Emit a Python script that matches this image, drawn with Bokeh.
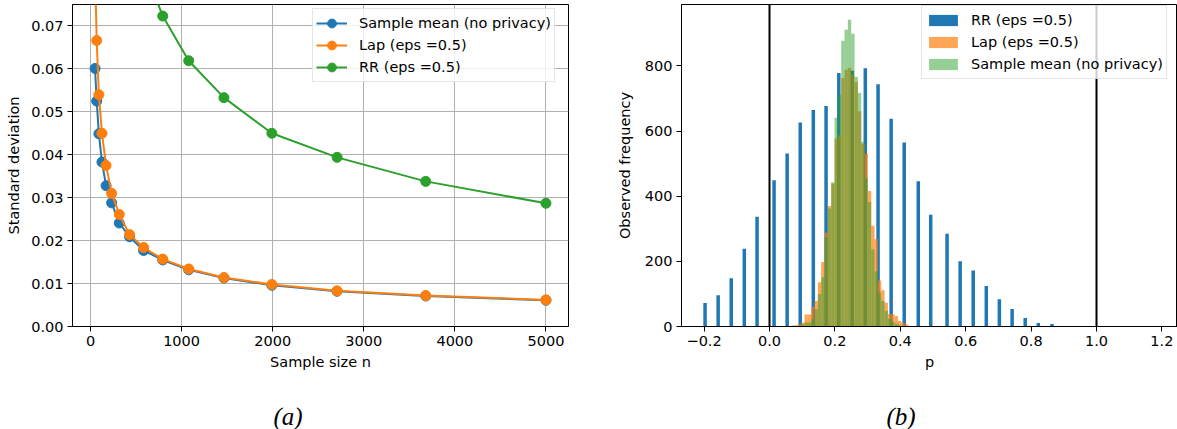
from bokeh.plotting import figure
from bokeh.layouts import row, column
from bokeh.models import (Span, Div, SingleIntervalTicker, CustomJSTickFormatter,
                          PrintfTickFormatter)
from bokeh.embed import file_html
from bokeh.resources import INLINE

# ---------------- data: panel (a) ----------------
sample_sizes = [50, 68, 92, 126, 171, 232, 316, 429, 583, 793, 1078, 1465, 1991, 2707, 3680, 5000]
std_sample_mean = [0.0601, 0.0525, 0.0449, 0.0383, 0.0328, 0.0288, 0.0241, 0.0209,
                   0.0177, 0.0155, 0.0132, 0.0113, 0.0096, 0.0082, 0.0071, 0.0061]
std_laplace = [0.083, 0.0666, 0.0540, 0.0450, 0.0375, 0.0310, 0.0261, 0.0214,
               0.0184, 0.0157, 0.0134, 0.0114, 0.0098, 0.0083, 0.0072, 0.0062]
std_rr = [0.287, 0.246, 0.212, 0.181, 0.155, 0.133, 0.114, 0.098,
          0.084, 0.0723, 0.0619, 0.0533, 0.0450, 0.0394, 0.0338, 0.0287]

# ---------------- data: panel (b) ----------------
rr_p = [-0.197, -0.157, -0.117, -0.077, -0.038, 0.014, 0.054, 0.094, 0.134, 0.173,
        0.212, 0.253, 0.293, 0.332, 0.372, 0.412, 0.455, 0.493, 0.543, 0.583,
        0.623, 0.663, 0.703, 0.742, 0.782, 0.822, 0.864]
rr_count = [72, 96, 148, 239, 337, 449, 531, 626, 665, 677,
            778, 785, 793, 744, 638, 565, 446, 343, 285, 200,
            172, 124, 84, 54, 26, 11, 8]

lap_p = [0.0714, 0.0816, 0.0918, 0.1020, 0.1122, 0.1224, 0.1326, 0.1428, 0.1530, 0.1632,
         0.1734, 0.1836, 0.1938, 0.2040, 0.2142, 0.2244, 0.2346, 0.2448, 0.2550, 0.2652,
         0.2754, 0.2856, 0.2958, 0.3060, 0.3162, 0.3264, 0.3366, 0.3468, 0.3570, 0.3672,
         0.3774, 0.3876, 0.3978, 0.4080, 0.4182]
lap_count = [3, 4, 7, 12, 37, 37, 60, 78, 136, 198,
             288, 370, 438, 577, 587, 763, 788, 794, 773, 751,
             661, 560, 531, 416, 309, 269, 141, 111, 73, 38,
             38, 32, 17, 12, 7]

mean_p = [0.1020, 0.1122, 0.1224, 0.1326, 0.1428, 0.1530, 0.1632, 0.1734, 0.1836, 0.1938,
          0.2040, 0.2142, 0.2244, 0.2346, 0.2448, 0.2550, 0.2652, 0.2754, 0.2856, 0.2958,
          0.3060, 0.3162, 0.3264, 0.3366, 0.3468, 0.3570, 0.3672, 0.3774, 0.3876, 0.3978]
mean_count = [7, 12, 12, 22, 53, 100, 151, 275, 362, 443,
              641, 712, 877, 911, 942, 899, 766, 717, 567, 455,
              382, 237, 170, 104, 78, 48, 24, 15, 9, 5]

vline_positions = [0.0, 1.0]

label_mean = "Sample mean (no privacy)"
label_lap = "Lap (eps =0.5)"
label_rr = "RR (eps =0.5)"
caption_a = "(a)"
caption_b = "(b)"

BLUE, ORANGE, GREEN = "#1f77b4", "#ff7f0e", "#2ca02c"
FONT = "DejaVu Sans"
FS = "14.5px"
RR_W = 0.0107
HW = 0.0102
FIG_H = 378


def style(p):
    for ax in p.axis:
        ax.axis_line_color = "black"
        ax.axis_line_width = 1
        ax.major_tick_line_color = "black"
        ax.major_tick_line_width = 1
        ax.major_tick_out = 5
        ax.major_tick_in = 0
        ax.minor_tick_line_color = None
        ax.major_label_text_font = FONT
        ax.major_label_text_font_size = FS
        ax.major_label_text_color = "black"
        ax.major_label_standoff = 4
        ax.axis_label_text_font = FONT
        ax.axis_label_text_font_size = FS
        ax.axis_label_text_font_style = "normal"
        ax.axis_label_text_color = "black"
    p.outline_line_color = "black"
    p.outline_line_width = 1
    p.outline_line_alpha = 1


def style_legend(lg):
    lg.label_text_font = FONT
    lg.label_text_font_size = FS
    lg.label_text_color = "black"
    lg.border_line_color = "#cccccc"
    lg.border_line_width = 1
    lg.background_fill_color = "white"
    lg.background_fill_alpha = 0.8
    lg.margin = 0
    lg.padding = 3
    lg.spacing = 0
    lg.label_height = 22


def caption(text, margin):
    return Div(text=text, width=40, height=24, margin=margin,
               styles={"font-family": "'Liberation Serif', serif", "font-style": "italic",
                       "font-size": "25px", "line-height": "24px", "color": "black",
                       "text-align": "center", "overflow": "visible"})


# ---------------- panel (a) ----------------
pa = figure(width=590, height=FIG_H, x_range=(-197.5, 5247.5), y_range=(0, 0.075),
            output_backend="svg", toolbar_location=None, title=None,
            min_border_left=72, min_border_right=22, min_border_top=4,
            min_border_bottom=FIG_H - 326)
style(pa)
pa.xaxis.ticker = SingleIntervalTicker(interval=1000, num_minor_ticks=0)
pa.yaxis.ticker = SingleIntervalTicker(interval=0.01, num_minor_ticks=0)
pa.yaxis.formatter = PrintfTickFormatter(format="%.2f")
pa.xaxis.axis_label = "Sample size n"
pa.yaxis.axis_label = "Standard deviation"
pa.xaxis.axis_label_standoff = 5
pa.yaxis.axis_label_standoff = 6
pa.grid.grid_line_color = "#b0b0b0"
pa.grid.grid_line_width = 1
pa.grid.grid_line_alpha = 1

for ys, col, lab in [(std_sample_mean, BLUE, label_mean),
                     (std_laplace, ORANGE, label_lap),
                     (std_rr, GREEN, label_rr)]:
    pa.line(sample_sizes, ys, line_color=col, line_width=2, legend_label=lab)
    pa.scatter(sample_sizes, ys, marker="circle", size=10, fill_color=col,
               line_color=col, legend_label=lab)

lga = pa.legend[0]
style_legend(lga)
lga.glyph_width = 31
lga.glyph_height = 22
lga.label_standoff = 12
lga.location = (240, 244)

# ---------------- panel (b) ----------------
pb = figure(width=587, height=FIG_H, x_range=(-0.2691, 1.2477), y_range=(0, 988.6),
            output_backend="svg", toolbar_location=None, title=None,
            min_border_left=91, min_border_right=0, min_border_top=1,
            min_border_bottom=FIG_H - 326)
style(pb)
pb.grid.visible = False
pb.xaxis.ticker = SingleIntervalTicker(interval=0.2, num_minor_ticks=0)
pb.yaxis.ticker = SingleIntervalTicker(interval=200, num_minor_ticks=0)
pb.xaxis.formatter = CustomJSTickFormatter(
    code="return (tick < -1e-9 ? '\\u2212' : '') + Math.abs(tick).toFixed(1);")
pb.xaxis.axis_label = "p"
pb.yaxis.axis_label = "Observed frequency"
pb.xaxis.axis_label_standoff = 5
pb.yaxis.axis_label_standoff = 9

pb.quad(left=[v - RR_W / 2 for v in rr_p], right=[v + RR_W / 2 for v in rr_p],
        bottom=0, top=rr_count, fill_color=BLUE, fill_alpha=1.0, line_color=None,
        legend_label=label_rr)
pb.quad(left=[v - HW / 2 for v in lap_p], right=[v + HW / 2 for v in lap_p],
        bottom=0, top=lap_count, fill_color=ORANGE, fill_alpha=0.7, line_color=None,
        legend_label=label_lap)
pb.quad(left=[v - HW / 2 for v in mean_p], right=[v + HW / 2 for v in mean_p],
        bottom=0, top=mean_count, fill_color=GREEN, fill_alpha=0.5, line_color=None,
        legend_label=label_mean)

for v in vline_positions:
    pb.add_layout(Span(location=v, dimension="height", line_color="black", line_width=2))

lgb = pb.legend[0]
style_legend(lgb)
lgb.glyph_width = 36
lgb.glyph_height = 14
lgb.label_standoff = 10
lgb.location = (240, 247)

# captions: (a) centred near x=288, (b) near x=901, both near y=416
cap_a = caption(caption_a, (405 - FIG_H, 0, 0, 268))
cap_b = caption(caption_b, (405 - FIG_H, 0, 0, 881 - 308))

p = column(row(pa, pb), row(cap_a, cap_b), margin=(0, 0, 0, 0))

open("out.html", "w").write(file_html(p, INLINE))
